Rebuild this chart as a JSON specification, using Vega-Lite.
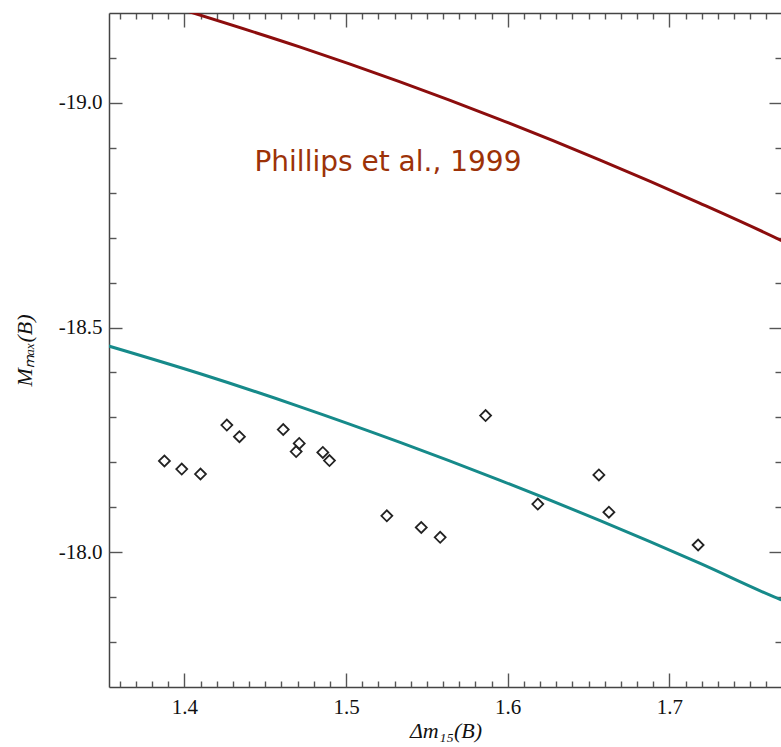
{
  "$schema": "https://vega.github.io/schema/vega-lite/v6.json",
  "width": 673,
  "height": 674,
  "autosize": {"type": "none"},
  "padding": {"left": 109, "top": 13, "right": 0, "bottom": 60},
  "background": "white",
  "config": {
    "view": {"stroke": null},
    "axis": {
      "domainColor": "#444444",
      "tickColor": "#555555",
      "domainWidth": 1.5,
      "tickWidth": 1.4,
      "labelFont": "Liberation Serif",
      "labelFontSize": 21,
      "labelColor": "#111111",
      "titleFont": "Liberation Serif",
      "titleFontSize": 22,
      "titleFontWeight": "normal",
      "titleColor": "#111111",
      "grid": false,
      "labelOverlap": false,
      "labelFlush": false
    }
  },
  "datasets": {
    "sn": [
      {"dm15": 1.3876, "M": -18.203},
      {"dm15": 1.3983, "M": -18.185},
      {"dm15": 1.4099, "M": -18.174},
      {"dm15": 1.4262, "M": -18.283},
      {"dm15": 1.4340, "M": -18.257},
      {"dm15": 1.4611, "M": -18.273},
      {"dm15": 1.4710, "M": -18.242},
      {"dm15": 1.4691, "M": -18.224},
      {"dm15": 1.4856, "M": -18.222},
      {"dm15": 1.4897, "M": -18.204},
      {"dm15": 1.5252, "M": -18.081},
      {"dm15": 1.5465, "M": -18.055},
      {"dm15": 1.5582, "M": -18.033},
      {"dm15": 1.5863, "M": -18.304},
      {"dm15": 1.6186, "M": -18.107},
      {"dm15": 1.6564, "M": -18.172},
      {"dm15": 1.6626, "M": -18.089},
      {"dm15": 1.7178, "M": -18.016}
    ],
    "phillips": [
      {"dm15": 1.4000, "M": -19.2061},
      {"dm15": 1.4712, "M": -19.1246},
      {"dm15": 1.5330, "M": -19.0472},
      {"dm15": 1.5949, "M": -18.9633},
      {"dm15": 1.6568, "M": -18.8732},
      {"dm15": 1.7187, "M": -18.7771},
      {"dm15": 1.7688, "M": -18.6946},
      {"dm15": 1.7720, "M": -18.6890}
    ],
    "fit": [
      {"dm15": 1.3530, "M": -18.4590},
      {"dm15": 1.4093, "M": -18.3977},
      {"dm15": 1.4712, "M": -18.3241},
      {"dm15": 1.5330, "M": -18.2449},
      {"dm15": 1.5949, "M": -18.1604},
      {"dm15": 1.6568, "M": -18.0707},
      {"dm15": 1.7187, "M": -17.9755},
      {"dm15": 1.7688, "M": -17.8946},
      {"dm15": 1.7720, "M": -17.8900}
    ],
    "labels": [
      {"dm15": 1.4433, "M": -18.849, "text": "Phillips et al., 1999"}
    ]
  },
  "layer": [
    {
      "data": {"name": "sn"},
      "mark": {"type": "point", "shape": "diamond", "filled": false, "size": 120, "strokeWidth": 1.8, "color": "#222222", "opacity": 1},
      "encoding": {
        "x": {
          "field": "dm15", "type": "quantitative",
          "scale": {"domain": [1.3533, 1.7697], "nice": false, "zero": false},
          "axis": {
            "orient": "bottom",
            "title": "Δm₁₅(B)",
            "titleFontStyle": "italic",
            "titlePadding": 3,
            "values": [1.4, 1.5, 1.6, 1.7],
            "format": ".1f",
            "ticks": false,
            "tickSize": 0,
            "labelPadding": 9
          }
        },
        "y": {
          "field": "M", "type": "quantitative",
          "scale": {"domain": [-19.2, -17.7], "nice": false, "zero": false, "reverse": true},
          "axis": {
            "orient": "left",
            "title": "Mₘₐₓ(B)",
            "titleFontStyle": "italic",
            "titlePadding": 22,
            "values": [-19.0, -18.5, -18.0],
            "labelExpr": "replace(format(datum.value, '.1f'), '−', '-')",
            "ticks": false,
            "tickSize": 0,
            "labelPadding": 7
          }
        }
      }
    },
    {
      "data": {"name": "phillips"},
      "mark": {"type": "line", "strokeWidth": 3, "clip": true, "color": "#8c0d0d", "interpolate": "monotone"},
      "encoding": {
        "x": {
          "field": "dm15", "type": "quantitative",
          "axis": {
            "orient": "top", "title": null, "labels": false,
            "values": [1.36,1.37,1.38,1.39,1.40,1.41,1.42,1.43,1.44,1.45,1.46,1.47,1.48,1.49,1.50,1.51,1.52,1.53,1.54,1.55,1.56,1.57,1.58,1.59,1.60,1.61,1.62,1.63,1.64,1.65,1.66,1.67,1.68,1.69,1.70,1.71,1.72,1.73,1.74,1.75,1.76],
            "tickSize": {"condition": {"test": "abs(datum.value*10 - round(datum.value*10)) < 0.001", "value": -14}, "value": -6}
          }
        },
        "y": {
          "field": "M", "type": "quantitative",
          "axis": {
            "orient": "right", "title": null, "labels": false,
            "values": [-19.1,-19.0,-18.9,-18.8,-18.7,-18.6,-18.5,-18.4,-18.3,-18.2,-18.1,-18.0,-17.9,-17.8],
            "tickSize": {"condition": {"test": "abs(datum.value*2 - round(datum.value*2)) < 0.001", "value": -13}, "value": -7}
          }
        }
      }
    },
    {
      "data": {"name": "fit"},
      "mark": {"type": "line", "strokeWidth": 3, "clip": true, "color": "#168a8a", "interpolate": "monotone"},
      "encoding": {
        "x": {
          "field": "dm15", "type": "quantitative",
          "axis": {
            "orient": "top", "offset": -674, "title": null, "labels": false, "domain": false,
            "values": [1.36,1.37,1.38,1.39,1.40,1.41,1.42,1.43,1.44,1.45,1.46,1.47,1.48,1.49,1.50,1.51,1.52,1.53,1.54,1.55,1.56,1.57,1.58,1.59,1.60,1.61,1.62,1.63,1.64,1.65,1.66,1.67,1.68,1.69,1.70,1.71,1.72,1.73,1.74,1.75,1.76],
            "tickSize": {"condition": {"test": "abs(datum.value*10 - round(datum.value*10)) < 0.001", "value": 14}, "value": 6}
          }
        },
        "y": {
          "field": "M", "type": "quantitative",
          "axis": {
            "orient": "right", "offset": -673, "title": null, "labels": false, "domain": false,
            "values": [-19.1,-19.0,-18.9,-18.8,-18.7,-18.6,-18.5,-18.4,-18.3,-18.2,-18.1,-18.0,-17.9,-17.8],
            "tickSize": {"condition": {"test": "abs(datum.value*2 - round(datum.value*2)) < 0.001", "value": 13}, "value": 7}
          }
        }
      }
    },
    {
      "data": {"name": "labels"},
      "mark": {"type": "text", "align": "left", "baseline": "alphabetic", "font": "DejaVu Sans", "fontSize": 28, "color": "#9c3208"},
      "encoding": {
        "x": {"field": "dm15", "type": "quantitative", "axis": null},
        "y": {"field": "M", "type": "quantitative", "axis": null},
        "text": {"field": "text"}
      }
    }
  ],
  "resolve": {"axis": {"x": "independent", "y": "independent"}}
}
